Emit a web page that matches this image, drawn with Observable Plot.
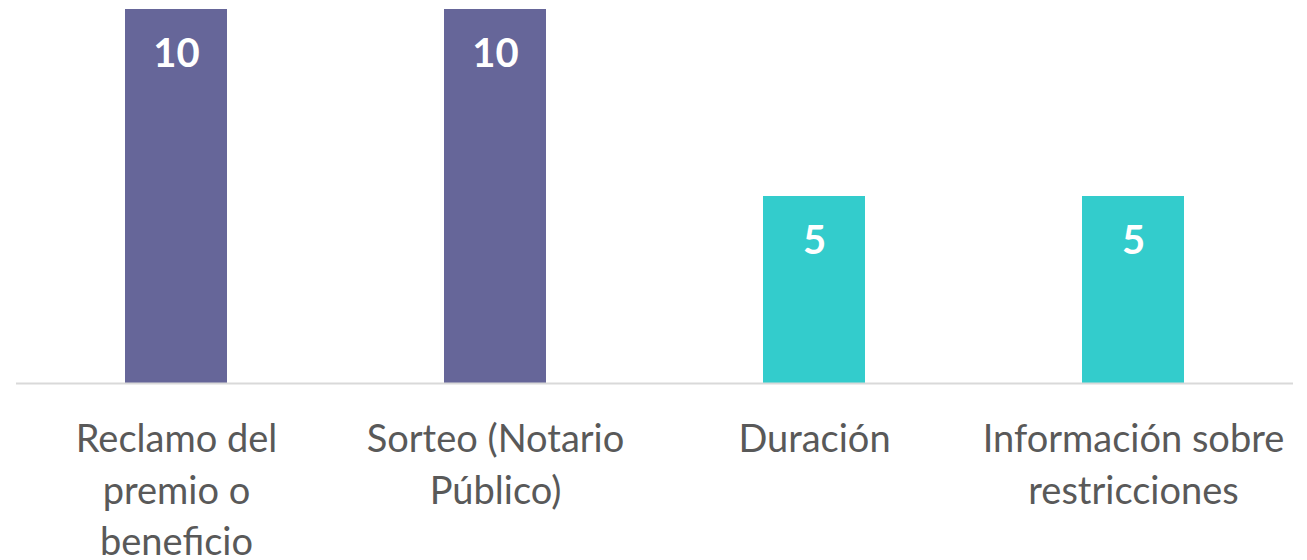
<!DOCTYPE html>
<html>
<head>
<meta charset="utf-8">
<script src="https://cdn.jsdelivr.net/npm/d3@7"></script>
<script src="https://cdn.jsdelivr.net/npm/@observablehq/plot@0.6"></script>
<style>
  html, body { margin: 0; padding: 0; background: #ffffff; }
  #chart { width: 1307px; height: 560px; }
</style>
</head>
<body>
<div id="chart"></div>
<script>
const categories = [
  "Reclamo del\npremio o\nbeneficio",
  "Sorteo (Notario\nPúblico)",
  "Duración",
  "Información sobre\nrestricciones"
];
const values = [10, 10, 5, 5];

const barColors = ["#666699", "#666699", "#33cccc", "#33cccc"];

const data = categories.map((c, i) => ({category: c, value: values[i]}));

const chart = Plot.plot({
  width: 1307,
  height: 560,
  marginTop: 9,
  marginBottom: 177,
  marginLeft: 16,
  marginRight: 14,
  style: {fontFamily: "Lato, 'Open Sans', sans-serif", background: "#ffffff"},
  x: {domain: categories, paddingInner: 0.68, paddingOuter: 0.34},
  y: {domain: [0, 10]},
  color: {domain: categories, range: barColors},
  marks: [
    Plot.barY(data, {x: "category", y: "value", fill: "category"}),
    Plot.ruleY([0], {stroke: "#d9d9d9", strokeWidth: 2}),
    Plot.text(data, {
      x: "category", y: "value", text: d => String(d.value),
      fill: "#ffffff", fontWeight: "bold", fontSize: 40,
      lineAnchor: "middle", dy: 45
    }),
    Plot.axisX({
      tickSize: 0, tickPadding: 32, fontSize: 38, lineHeight: 1.355,
      fill: "#595959", label: null
    }),
    Plot.axisY({ticks: [], label: null, tickSize: 0})
  ]
});
document.getElementById("chart").appendChild(chart);
</script>
</body>
</html>
